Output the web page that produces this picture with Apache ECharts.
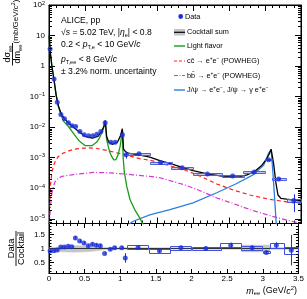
<!DOCTYPE html>
<html><head><meta charset="utf-8">
<script src="https://cdn.jsdelivr.net/npm/echarts@6/dist/echarts.min.js"></script>
<style>html,body{margin:0;padding:0;background:#fff}#c{width:307px;height:299px}</style>
</head><body><div id="c"></div>
<script>
const FONT = '"Liberation Sans", Arial, Helvetica, sans-serif';

// ---- measured data (from picture) ----
const massBins = [0.015, 0.07, 0.115, 0.165, 0.215, 0.27, 0.32, 0.37, 0.43, 0.49, 0.55, 0.61, 0.665, 0.72, 0.78, 0.86, 0.92, 1.02, 1.07, 1.25, 1.55, 1.85, 2.2, 2.55, 2.85, 3.05, 3.19, 3.4];
const dataYield = [3.6, 0.38, 0.065, 0.026, 0.019, 0.014, 0.0112, 0.0105, 0.0072, 0.0056, 0.0052, 0.0052, 0.0059, 0.0072, 0.014, 0.0032, 0.0032, 0.0056, 0.00126, 0.00135, 0.00069, 0.00047, 0.00029, 0.00025, 0.00034, 0.00085, 0.0002, 0.00004];
const ratioVal = [0.91, 0.92, 0.95, 1.05, 1.05, 1.08, 1.06, 1.38, 1.27, 1.2, 1.1, 1.15, 1.12, 1.1, 0.82, 0.97, 1.03, 1.03, 0.66, 1.04, 0.92, 1.03, 1.0, 1.12, 1.03, 0.86, 1.12, 0.94];
const ratioStat = [0.04, 0.04, 0.03, 0.03, 0.03, 0.03, 0.03, 0.06, 0.06, 0.05, 0.05, 0.06, 0.06, 0.06, 0.04, 0.05, 0.06, 0.05, 0.17, 0.06, 0.07, 0.07, 0.07, 0.09, 0.08, 0.04, 0.1, 0.55];
const ratioSys = [null, null, null, null, null, null, null, null, null, null, null, null, null, null, null, null, null, null, null, 0.07, 0.07, 0.07, 0.06, 0.08, 0.07, 0.04, 0.09, 0.12];
const binLo = [null, null, null, null, null, null, null, null, null, null, null, null, null, null, null, null, null, null, null, 1.1, 1.4, 1.7, 2.0, 2.4, 2.7, 3.0, 3.1, 3.3];
const binHi = [null, null, null, null, null, null, null, null, null, null, null, null, null, null, null, null, null, null, null, 1.4, 1.7, 2.0, 2.4, 2.7, 3.0, 3.1, 3.3, 3.5];

const cocktailM = [0.003, 0.015, 0.04, 0.07, 0.1, 0.13, 0.17, 0.22, 0.3, 0.4, 0.5, 0.6, 0.68, 0.73, 0.765, 0.782, 0.8, 0.83, 0.88, 0.95, 0.99, 1.019, 1.035, 1.06, 1.1, 1.2, 1.3, 1.4, 1.55, 1.7, 1.85, 2.0, 2.2, 2.4, 2.55, 2.65, 2.75, 2.85, 2.95, 3.02, 3.06, 3.085, 3.12, 3.15, 3.18, 3.22, 3.3, 3.4, 3.5];
const cocktailV = [10, 3.2, 1.0, 0.35, 0.11, 0.05, 0.027, 0.018, 0.0117, 0.0076, 0.005, 0.0044, 0.005, 0.0071, 0.0112, 0.0166, 0.005, 0.0032, 0.00275, 0.0032, 0.005, 0.0089, 0.0019, 0.0016, 0.0014, 0.00129, 0.00117, 0.00105, 0.00079, 0.00063, 0.00048, 0.00038, 0.000295, 0.00025, 0.000234, 0.00024, 0.000275, 0.000347, 0.00054, 0.00089, 0.00135, 0.0019, 0.00063, 0.000158, 0.00006, 0.0000468, 0.0000437, 0.0000407, 0.000038];

const lfM = [0.003, 0.015, 0.04, 0.07, 0.1, 0.13, 0.17, 0.2, 0.27, 0.34, 0.42, 0.5, 0.6, 0.66, 0.7, 0.74, 0.765, 0.782, 0.8, 0.84, 0.87, 0.9, 0.93, 0.96, 0.99, 1.01, 1.019, 1.03, 1.045, 1.08, 1.125, 1.19, 1.26, 1.31, 1.4];
const lfV = [10, 3.2, 1.0, 0.345, 0.107, 0.047, 0.024, 0.0158, 0.0105, 0.0063, 0.0035, 0.0025, 0.0025, 0.0032, 0.0044, 0.0071, 0.0107, 0.0158, 0.004, 0.0016, 0.0011, 0.00085, 0.00087, 0.00126, 0.0025, 0.0056, 0.0083, 0.001, 0.000355, 0.000115, 0.0000427, 0.00002, 0.0000107, 0.0000063, 0.0000032];

const ccM = [0.01, 0.02, 0.04, 0.06, 0.09, 0.13, 0.19, 0.25, 0.35, 0.45, 0.55, 0.65, 0.8, 0.99, 1.26, 1.4, 1.55, 1.87, 2.1, 2.33, 2.55, 2.79, 3.07, 3.4, 3.5];
const ccV = [2.5e-5, 1.26e-4, 3.2e-4, 5.2e-4, 7.9e-4, 1.1e-3, 1.38e-3, 1.58e-3, 1.9e-3, 2.04e-3, 2.09e-3, 2.04e-3, 1.74e-3, 1.35e-3, 9.3e-4, 8.3e-4, 6.6e-4, 4.1e-4, 2.5e-4, 1.38e-4, 8.9e-5, 6.0e-5, 4.3e-5, 3.3e-5, 3.2e-5];

const bbM = [0.005, 0.02, 0.04, 0.08, 0.13, 0.18, 0.34, 0.62, 0.85, 1.17, 1.4, 1.54, 1.87, 2.1, 2.33, 2.55, 2.79, 3.07, 3.35, 3.5];
const bbV = [6.3e-6, 2.5e-5, 7.1e-5, 1.58e-4, 2.1e-4, 2.45e-4, 2.8e-4, 3.3e-4, 3.2e-4, 2.75e-4, 2.45e-4, 2.2e-4, 1.32e-4, 8.3e-5, 4.8e-5, 3.2e-5, 2.0e-5, 1.26e-5, 8.5e-6, 7.1e-6];

const jpsiM = [1.1, 1.17, 1.4, 1.68, 2.0, 2.33, 2.6, 2.84, 2.98, 3.05, 3.085, 3.11, 3.13, 3.16];
const jpsiV = [6.3e-6, 8.3e-6, 1.35e-5, 2.0e-5, 3.3e-5, 7.1e-5, 1.4e-4, 2.8e-4, 5.6e-4, 1.41e-3, 1.82e-3, 3.2e-4, 6.3e-5, 5e-6];

const bandM  = [0, 0.1, 0.2, 0.3, 0.4, 0.5, 0.6, 0.7, 0.78, 0.85, 1.1, 2.7, 2.7, 3.1, 3.1, 3.5];
const bandLo = [0.86, 0.88, 0.88, 0.87, 0.87, 0.88, 0.9, 0.93, 0.96, 0.97, 0.97, 0.97, 0.88, 0.88, 0.97, 0.97];
const bandHi = [1.02, 1.05, 1.08, 1.1, 1.1, 1.09, 1.08, 1.06, 1.04, 1.03, 1.03, 1.03, 1.12, 1.12, 1.03, 1.03];

const ratioTicks = [0.5, 1, 1.5];
const ratioMinor = [0.2, 0.3, 0.4, 0.6, 0.7, 0.8, 0.9, 1.1, 1.2, 1.3, 1.4, 1.6, 1.7, 1.8];
const textLines = ['ALICE, pp', '√s = 5.02 TeV, |η_e| < 0.8', '0.2 < p_T,e < 10 GeV/c', 'p_T,ee < 8 GeV/c', '± 3.2% norm. uncertainty'];
const legendNames = ['Data', 'Cocktail sum', 'Light flavor', 'cc̄ → e+e− (POWHEG)', 'bb̄ → e+e− (POWHEG)', 'J/ψ → e+e−, J/ψ → γ e+e−'];

// ---- colours ----
const C_DATA = '#1c2fd9', C_LF = '#1a9c1a', C_CC = '#ff1f1f', C_BB = '#d633d6', C_JP = '#2a7fdf';

// minor log ticks (axis decoration)
const logMinor = [];
for (let e = -6; e <= 1; e++) for (let k = 2; k <= 9; k++) { const v = k * Math.pow(10, e); if (v > 7e-6 && v < 100) logMinor.push(v); }

function RICH(fs, col) {
  col = col || '#000';
  return {
    n: {fontSize: fs, fontFamily: FONT, fill: col, color: col, lineHeight: Math.round(fs * 1.25)},
    i: {fontSize: fs, fontFamily: FONT, fill: col, color: col, fontStyle: 'italic', lineHeight: Math.round(fs * 1.25)},
    sub: {fontSize: fs * 0.65, fontFamily: FONT, fill: col, color: col, verticalAlign: 'bottom', lineHeight: 5},
    sup: {fontSize: fs * 0.65, fontFamily: FONT, fill: col, color: col, verticalAlign: 'top', lineHeight: 4}
  };
}
function T(x, y, text, fs, opts) {
  opts = opts || {};
  return {type: 'text', x: x, y: y, silent: true, z: 100, rotation: opts.rot || 0,
    style: {text: text, fill: '#000', fontFamily: FONT, fontSize: fs, align: opts.align || 'left', verticalAlign: 'middle', rich: RICH(fs)}};
}
function L(x1, y1, x2, y2, color, dash, w) {
  return {type: 'line', silent: true, z: 100, shape: {x1: x1, y1: y1, x2: x2, y2: y2},
    style: {stroke: color, lineWidth: w || 1.2, lineDash: dash || null}};
}

const FS = 8.6, LFS = 7.3, R90 = Math.PI / 2;
const graphic = [
  // top-left text block
  T(61, 20.5, '{n|' + textLines[0] + '}', FS),
  T(61, 32.5, '{n|√}{i|s}{n| = 5.02 TeV, |}{i|η}{sub|e}{n|| < 0.8}', FS),
  T(61, 45, '{n|0.2 < }{i|p}{sub|T,e}{n| < 10 GeV/}{i|c}', FS),
  T(61, 59.5, '{i|p}{sub|T,ee}{n| < 8 GeV/}{i|c}', FS),
  T(61, 72, '{n|' + textLines[4] + '}', FS),
  // legend
  {type: 'circle', silent: true, z: 100, shape: {cx: 180.7, cy: 16.5, r: 2.4}, style: {fill: C_DATA}},
  T(185, 16.5, '{n|' + legendNames[0] + '}', LFS),
  {type: 'rect', silent: true, z: 100, shape: {x: 174, y: 29, width: 11, height: 6.5}, style: {fill: '#c4c4c4'}},
  L(174, 32.3, 185, 32.3, '#000', null, 1.2),
  T(187, 32.3, '{n|' + legendNames[1] + '}', LFS),
  L(174, 46, 185, 46, C_LF, null, 1.4),
  T(187, 46, '{n|' + legendNames[2] + '}', LFS),
  L(174, 61, 185, 61, C_CC, [3, 2], 1.2),
  T(187, 61, '{n|cc̄ → e}{sup|+}{n|e}{sup|−}{n| (POWHEG)}', LFS),
  L(174, 75.5, 185, 75.5, C_BB, [4, 1.5, 1, 1.5], 1.2),
  T(187, 75.5, '{n|bb̄ → e}{sup|+}{n|e}{sup|−}{n| (POWHEG)}', LFS),
  L(174, 90, 185, 90, C_JP, null, 1.4),
  T(187, 90, '{n|J/ψ → e}{sup|+}{n|e}{sup|−}{n|, J/ψ → γ e}{sup|+}{n|e}{sup|−}', LFS),
  // main y title (rotated)
  T(16, 21.5, '{n|(mb/GeV/}{i|c}{sup|2}{n|)}', 8, {rot: R90, align: 'center'}),
  T(7.5, 54, '{n|dσ}{sub|ee}', 9, {rot: R90, align: 'center'}),
  L(12.5, 43, 12.5, 65.5, '#000', null, 0.9),
  T(18, 54, '{n|dm}{sub|ee}', 9, {rot: R90, align: 'center'}),
  // ratio y title
  T(11, 248.5, '{n|Data}', 9.3, {rot: R90, align: 'center'}),
  L(16, 231, 16, 266, '#000', null, 0.9),
  T(21.5, 248.5, '{n|Cocktail}', 9.3, {rot: R90, align: 'center'}),
  // x title
  T(297, 291, '{i|m}{sub|ee}{n| (GeV/}{i|c}{sup|2}{n|)}', 9, {align: 'right'})
];

function tickRender(len) {
  return function (params, api) {
    const y = Math.round(api.coord([1, api.value(1)])[1]) + 0.5;
    const cs = params.coordSys;
    const x0 = cs.x, x1 = cs.x + cs.width;
    return {type: 'group', children: [
      {type: 'line', shape: {x1: x0, y1: y, x2: x0 + len, y2: y}, style: {stroke: '#000', lineWidth: 1}},
      {type: 'line', shape: {x1: x1 - len, y1: y, x2: x1, y2: y}, style: {stroke: '#000', lineWidth: 1}}
    ]};
  };
}
function errRender(color) {
  return function (params, api) {
    const p1 = api.coord([api.value(0), api.value(1)]);
    const p2 = api.coord([api.value(0), api.value(2)]);
    const px = Math.round(p1[0]) + 0.5;
    return {type: 'line', shape: {x1: px, y1: p1[1], x2: px, y2: p2[1]}, style: {stroke: color, lineWidth: 1}};
  };
}
function boxRender(fill, stroke) {
  return function (params, api) {
    const a = api.coord([api.value(0), api.value(3)]);
    const b = api.coord([api.value(1), api.value(2)]);
    return {type: 'rect', shape: {x: Math.round(a[0]) + 0.5, y: Math.round(a[1]) + 0.5, width: Math.round(b[0] - a[0]), height: Math.max(1, Math.round(b[1] - a[1]))},
      style: {fill: fill, stroke: stroke, lineWidth: 1}};
  };
}
function bandRender(params, api) {
  const x0 = api.value(0), x1 = api.value(1);
  const pts = [api.coord([x0, api.value(2)]), api.coord([x1, api.value(3)]), api.coord([x1, api.value(5)]), api.coord([x0, api.value(4)])];
  return {type: 'polygon', shape: {points: pts}, style: {fill: '#c4c4c4', stroke: '#c4c4c4', lineWidth: 0.5}};
}

const axisTxt = {fontFamily: FONT, fontSize: 8, color: '#000'};
function xAx(grid, pos, labels) {
  return {type: 'value', gridIndex: grid, position: pos, min: 0, max: 3.5, interval: 0.5,
    axisLine: {show: true, onZero: false, lineStyle: {color: '#000', width: 1}},
    axisTick: {show: true, inside: true, length: grid === 0 ? 6 : 4.5, lineStyle: {color: '#000'}},
    minorTick: {show: true, splitNumber: 5, length: grid === 0 ? 3 : 2.5, lineStyle: {color: '#000'}},
    splitLine: {show: false}, minorSplitLine: {show: false},
    axisLabel: labels ? Object.assign({show: true, margin: 1.5}, axisTxt) : {show: false}};
}
function supFmt(v) {
  const lg = Math.log10(v), e = Math.round(lg);
  if (Math.abs(lg - e) > 1e-6) return '';
  if (e === 0) return '1';
  if (e === 1) return '10';
  return '{b|10}{p|' + (e < 0 ? '−' : '') + Math.abs(e) + '}';
}
function logAx(pos, labels) {
  return {type: 'log', logBase: 10, gridIndex: 0, position: pos, min: 7e-6, max: 100,
    axisLine: {show: true, onZero: false, lineStyle: {color: '#000', width: 1}},
    axisTick: {show: true, inside: true, length: 6, lineStyle: {color: '#000'}},
    minorTick: {show: false}, splitLine: {show: false},
    axisLabel: labels ? Object.assign({show: true, margin: 4, showMinLabel: false, formatter: supFmt,
      rich: {b: {fontFamily: FONT, fontSize: 8, color: '#000', lineHeight: 10}, p: {fontFamily: FONT, fontSize: 5.5, color: '#000', verticalAlign: 'top', lineHeight: 4}}}, axisTxt) : {show: false}};
}
function ratioAx(pos, labels) {
  return {type: 'value', gridIndex: 1, position: pos, min: 0.1, max: 1.9,
    axisLine: {show: true, onZero: false, lineStyle: {color: '#000', width: 1}},
    axisTick: {show: true, inside: true, length: 5, customValues: ratioTicks, lineStyle: {color: '#000'}},
    minorTick: {show: false}, splitLine: {show: false},
    axisLabel: labels ? Object.assign({show: true, margin: 4, customValues: ratioTicks}, axisTxt) : {show: false}};
}
function lineS(m, v, color, dash, w) {
  return {type: 'line', xAxisIndex: 0, yAxisIndex: 0, data: m.map((x, i) => [x, v[i]]),
    symbol: 'none', showSymbol: false, silent: true, z: 3,
    lineStyle: {color: color, width: w || 1.2, type: dash || 'solid'}};
}

const idxBox = massBins.map((m, i) => i).filter(i => binLo[i] !== null);
const bandSeg = [];
for (let i = 0; i + 1 < bandM.length; i++) {
  if (bandM[i + 1] > bandM[i]) bandSeg.push([bandM[i], bandM[i + 1], bandLo[i], bandLo[i + 1], bandHi[i], bandHi[i + 1]]);
}

const option = {
  animation: false,
  backgroundColor: '#fff',
  grid: [
    {left: 49, right: 6, top: 5, height: 218.5, show: true, borderColor: '#000', borderWidth: 1, backgroundColor: 'transparent'},
    {left: 49, right: 6, top: 223.5, height: 50, show: true, borderColor: '#000', borderWidth: 1, backgroundColor: 'transparent'}
  ],
  xAxis: [xAx(0, 'bottom', false), xAx(0, 'top', false), xAx(1, 'bottom', true), xAx(1, 'top', false)],
  yAxis: [logAx('left', true), logAx('right', false), ratioAx('left', true), ratioAx('right', false)],
  graphic: graphic,
  series: [
    // ratio band
    {type: 'custom', xAxisIndex: 2, yAxisIndex: 2, renderItem: bandRender, silent: true, z: 1, data: bandSeg},
    {type: 'line', xAxisIndex: 2, yAxisIndex: 2, data: [[0, 1], [3.5, 1]], symbol: 'none', silent: true,
      lineStyle: {color: '#333', width: 1}, z: 2},
    {type: 'custom', xAxisIndex: 2, yAxisIndex: 2, renderItem: boxRender('rgba(255,255,255,0)', '#4050e0'), z: 3,
      data: idxBox.map(i => [binLo[i], binHi[i], ratioVal[i] - ratioSys[i], ratioVal[i] + ratioSys[i]])},
    {type: 'custom', xAxisIndex: 2, yAxisIndex: 2, renderItem: errRender(C_DATA), z: 4,
      data: massBins.map((m, i) => [m, ratioVal[i] - ratioStat[i], ratioVal[i] + ratioStat[i]])},
    {type: 'scatter', xAxisIndex: 2, yAxisIndex: 2, symbolSize: 5, itemStyle: {color: C_DATA}, z: 5, silent: true,
      data: massBins.map((m, i) => [m, ratioVal[i]])},
    // main panel model curves
    lineS(ccM, ccV, C_CC, [4, 3], 1.2),
    lineS(bbM, bbV, C_BB, [5, 2, 1, 2], 1.2),
    lineS(jpsiM, jpsiV, C_JP, null, 1.3),
    lineS(lfM, lfV, C_LF, null, 1.3),
    lineS(cocktailM, cocktailV, '#000', null, 1.3),
    // main data
    {type: 'custom', xAxisIndex: 0, yAxisIndex: 0, renderItem: boxRender('rgba(90,100,235,0.35)', '#5060e0'), z: 4,
      data: idxBox.map(i => [binLo[i], binHi[i], dataYield[i] * (1 - ratioSys[i] / ratioVal[i]), dataYield[i] * (1 + ratioSys[i] / ratioVal[i])])},
    {type: 'custom', xAxisIndex: 0, yAxisIndex: 0, renderItem: errRender(C_DATA), z: 5,
      data: massBins.map((m, i) => [m, dataYield[i] * (1 - ratioStat[i] / ratioVal[i]), dataYield[i] * (1 + ratioStat[i] / ratioVal[i])])},
    {type: 'scatter', xAxisIndex: 0, yAxisIndex: 0, symbolSize: 5, itemStyle: {color: C_DATA}, z: 6, silent: true,
      data: massBins.map((m, i) => [m, dataYield[i]])},
    // minor ticks
    {type: 'custom', xAxisIndex: 0, yAxisIndex: 0, renderItem: tickRender(3), silent: true, z: 7, clip: false,
      data: logMinor.map(v => [1, v])},
    {type: 'custom', xAxisIndex: 2, yAxisIndex: 2, renderItem: tickRender(2.5), silent: true, z: 7, clip: false,
      data: ratioMinor.map(v => [1, v])}
  ]
};
const chart = echarts.init(document.getElementById('c'), null, {renderer: 'canvas', width: 307, height: 299});
chart.setOption(option);
</script>
</body></html>
